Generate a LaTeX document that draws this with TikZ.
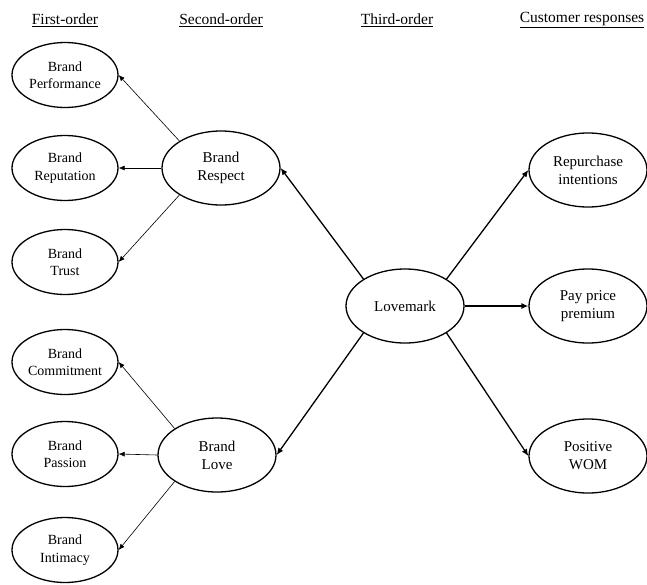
\documentclass[tikz,border=0pt]{standalone}
\usepackage{fontspec}
\setmainfont{Liberation Serif}
\usetikzlibrary{shapes.geometric,arrows.meta}
\begin{document}
\begin{tikzpicture}[x=1pt,y=-1pt,
  ell/.style={draw,ellipse,line width=1.3pt,inner sep=0pt,align=center},
  small/.style={ell,minimum width=106pt,minimum height=65pt,font=\fontsize{14}{17.5}\selectfont},
  big/.style={ell,minimum width=118pt,minimum height=74pt,font=\fontsize{15}{18}\selectfont},
  head/.style={font=\fontsize{15.5}{18}\selectfont},
  thin/.style={line width=0.6pt,-{Latex[length=6pt,width=5pt]}},
  thick/.style={line width=1.3pt,-{Latex[length=7pt,width=6pt]}}]
\useasboundingbox (0,0) rectangle (647,584);
\node[head] (h1) at (65,20) {\underline{First-order}};
\node[head] (h2) at (221,20) {\underline{Second-order}};
\node[head] (h3) at (397,20) {\underline{Third-order}};
\node[head] (h4) at (582,20) {\underline{Customer responses}};

\node[small] (perf) at (65,75) {Brand\\Performance};
\node[small] (rep) at (65,168) {Brand\\Reputation};
\node[small] (trust) at (65,262) {Brand\\Trust};
\node[small] (comm) at (65,362) {Brand\\Commitment};
\node[small] (pass) at (65,454) {Brand\\Passion};
\node[small] (intim) at (65,550) {Brand\\Intimacy};

\node[big] (resp) at (221,168) {Brand\\Respect};
\node[big] (love) at (217,455) {Brand\\Love};
\node[big] (lm) at (405,306) {Lovemark};
\node[big] (repu) at (588,170) {Repurchase\\intentions};
\node[big] (pay) at (588,306) {Pay price\\premium};
\node[big] (wom) at (588,456) {Positive\\WOM};

\draw[thin] (resp.147) -- (perf.east);
\draw[thin] (resp.west) -- (rep.east);
\draw[thin] (resp.213) -- (trust.east);
\draw[thin] (love.148) -- (comm.east);
\draw[thin] (love.west) -- (pass.east);
\draw[thin] (love.212) -- (intim.east);

\draw[thick] (lm.147) -- (resp.east);
\draw[thick] (lm.213) -- (love.east);
\draw[thick] (lm.33) -- (repu.west);
\draw[thick] (lm.east) -- (pay.west);
\draw[thick] (lm.-33) -- (wom.west);
\end{tikzpicture}
\end{document}
